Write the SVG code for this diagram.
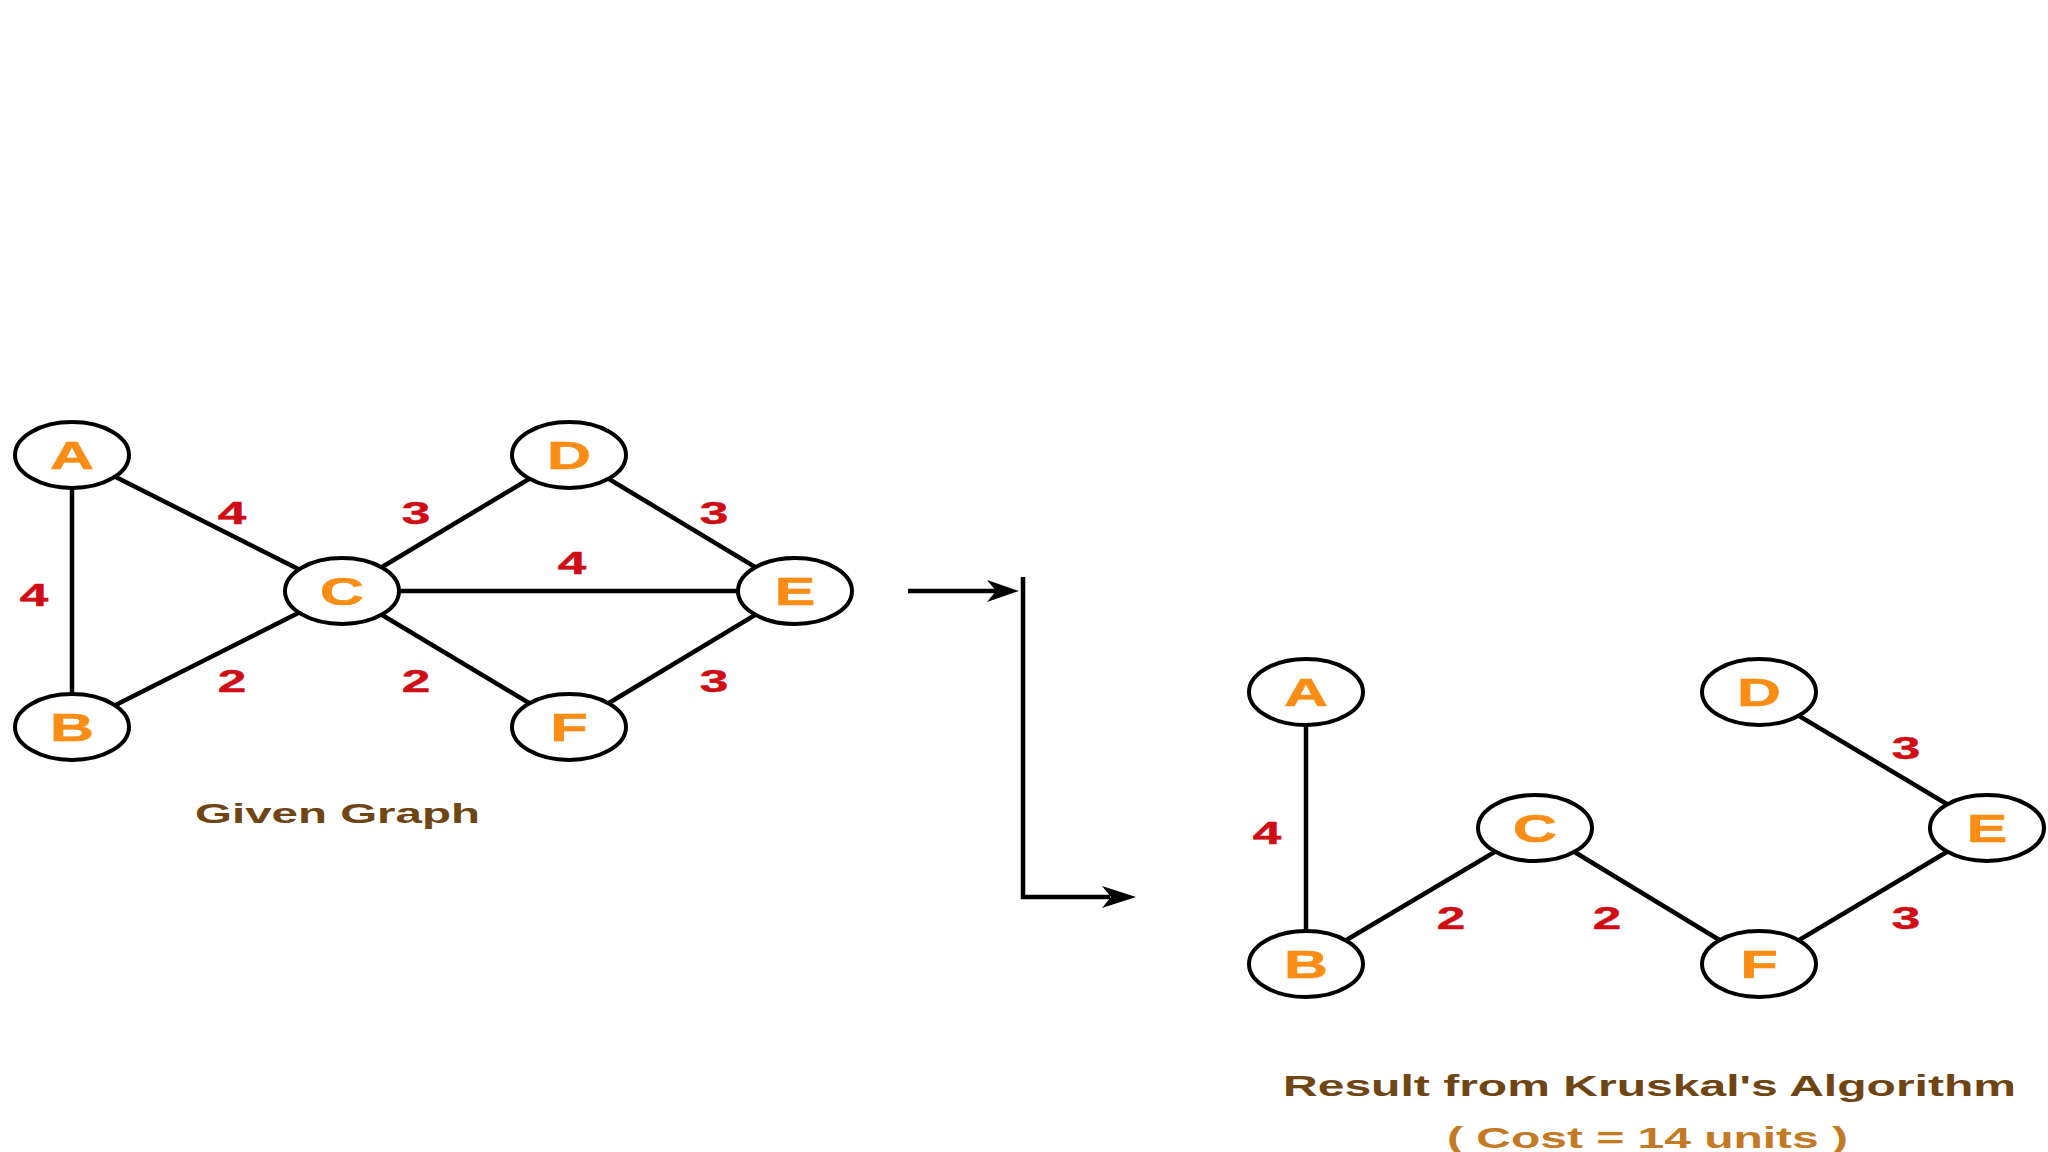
<svg xmlns="http://www.w3.org/2000/svg" width="2048" height="1152" viewBox="0 0 2048 1152">
<style>
.node ellipse{fill:#fff;stroke:#000;stroke-width:4}
.lbl{font-family:"Liberation Sans",Arial,sans-serif;font-weight:bold;font-size:38px;fill:#fb8c14;text-anchor:middle;stroke:#fb8c14;stroke-width:0.6}
.w{font-family:"Liberation Sans",Arial,sans-serif;font-weight:bold;font-size:32px;fill:#d00c14;text-anchor:middle;stroke:#d00c14;stroke-width:0.5}
.edge{stroke:#000;stroke-width:4.5;fill:none}
.cap{font-family:"Liberation Sans",Arial,sans-serif;font-weight:bold;fill:#6f4514}
</style>
<rect width="2048" height="1152" fill="#fff"/>
<g id="connectors">
  <line class="edge" x1="72" y1="455" x2="72" y2="727"/>
  <line class="edge" x1="72" y1="455" x2="342" y2="591"/>
  <line class="edge" x1="72" y1="727" x2="342" y2="591"/>
  <line class="edge" x1="342" y1="591" x2="569" y2="455"/>
  <line class="edge" x1="342" y1="591" x2="795" y2="591"/>
  <line class="edge" x1="342" y1="591" x2="569" y2="727"/>
  <line class="edge" x1="569" y1="455" x2="795" y2="591"/>
  <line class="edge" x1="569" y1="727" x2="795" y2="591"/>
  <line class="edge" x1="1306" y1="692" x2="1306" y2="964"/>
  <line class="edge" x1="1306" y1="964" x2="1535" y2="828"/>
  <line class="edge" x1="1535" y1="828" x2="1759" y2="964"/>
  <line class="edge" x1="1759" y1="964" x2="1987" y2="828"/>
  <line class="edge" x1="1759" y1="692" x2="1987" y2="828"/>
  <line class="edge" x1="908" y1="591" x2="996" y2="591"/>
  <line class="edge" x1="1023" y1="577" x2="1023" y2="899"/>
  <line class="edge" x1="1021" y1="897" x2="1110" y2="897"/>
  <polygon points="1019,591 987,580 996,591 987,602" fill="#000"/>
  <polygon points="1136,897 1102,886 1111,897 1102,908" fill="#000"/>
</g>
<g id="weights">
  <text class="w" transform="translate(34,606) scale(1.6,1)">4</text>
  <text class="w" transform="translate(232,524) scale(1.6,1)">4</text>
  <text class="w" transform="translate(416,524) scale(1.6,1)">3</text>
  <text class="w" transform="translate(714,524) scale(1.6,1)">3</text>
  <text class="w" transform="translate(572,574) scale(1.6,1)">4</text>
  <text class="w" transform="translate(232,692) scale(1.6,1)">2</text>
  <text class="w" transform="translate(416,692) scale(1.6,1)">2</text>
  <text class="w" transform="translate(714,692) scale(1.6,1)">3</text>
  <text class="w" transform="translate(1267,844) scale(1.6,1)">4</text>
  <text class="w" transform="translate(1906,759) scale(1.6,1)">3</text>
  <text class="w" transform="translate(1451,929) scale(1.6,1)">2</text>
  <text class="w" transform="translate(1607,929) scale(1.6,1)">2</text>
  <text class="w" transform="translate(1906,929) scale(1.6,1)">3</text>
</g>
<g id="g-A" class="node"><ellipse cx="72" cy="455" rx="57" ry="33"/><text class="lbl" transform="translate(72,469) scale(1.6,1)">A</text></g>
<g id="g-B" class="node"><ellipse cx="72" cy="727" rx="57" ry="33"/><text class="lbl" transform="translate(72,741) scale(1.6,1)">B</text></g>
<g id="g-C" class="node"><ellipse cx="342" cy="591" rx="57" ry="33"/><text class="lbl" transform="translate(342,605) scale(1.6,1)">C</text></g>
<g id="g-D" class="node"><ellipse cx="569" cy="455" rx="57" ry="33"/><text class="lbl" transform="translate(569,469) scale(1.6,1)">D</text></g>
<g id="g-E" class="node"><ellipse cx="795" cy="591" rx="57" ry="33"/><text class="lbl" transform="translate(795,605) scale(1.6,1)">E</text></g>
<g id="g-F" class="node"><ellipse cx="569" cy="727" rx="57" ry="33"/><text class="lbl" transform="translate(569,741) scale(1.6,1)">F</text></g>
<g id="r-A" class="node"><ellipse cx="1306" cy="692" rx="57" ry="33"/><text class="lbl" transform="translate(1306,706) scale(1.6,1)">A</text></g>
<g id="r-B" class="node"><ellipse cx="1306" cy="964" rx="57" ry="33"/><text class="lbl" transform="translate(1306,978) scale(1.6,1)">B</text></g>
<g id="r-C" class="node"><ellipse cx="1535" cy="828" rx="57" ry="33"/><text class="lbl" transform="translate(1535,842) scale(1.6,1)">C</text></g>
<g id="r-D" class="node"><ellipse cx="1759" cy="692" rx="57" ry="33"/><text class="lbl" transform="translate(1759,706) scale(1.6,1)">D</text></g>
<g id="r-E" class="node"><ellipse cx="1987" cy="828" rx="57" ry="33"/><text class="lbl" transform="translate(1987,842) scale(1.6,1)">E</text></g>
<g id="r-F" class="node"><ellipse cx="1759" cy="964" rx="57" ry="33"/><text class="lbl" transform="translate(1759,978) scale(1.6,1)">F</text></g>
<g id="captions">
  <text class="cap" x="195" y="823" font-size="28" textLength="285" lengthAdjust="spacingAndGlyphs">Given Graph</text>
  <text class="cap" x="1283" y="1096" font-size="30" textLength="733" lengthAdjust="spacingAndGlyphs">Result from Kruskal's Algorithm</text>
  <text class="cap" x="1447" y="1148" font-size="30" textLength="401" lengthAdjust="spacingAndGlyphs" style="fill:#c47a24">( Cost = 14 units )</text>
</g>
</svg>
